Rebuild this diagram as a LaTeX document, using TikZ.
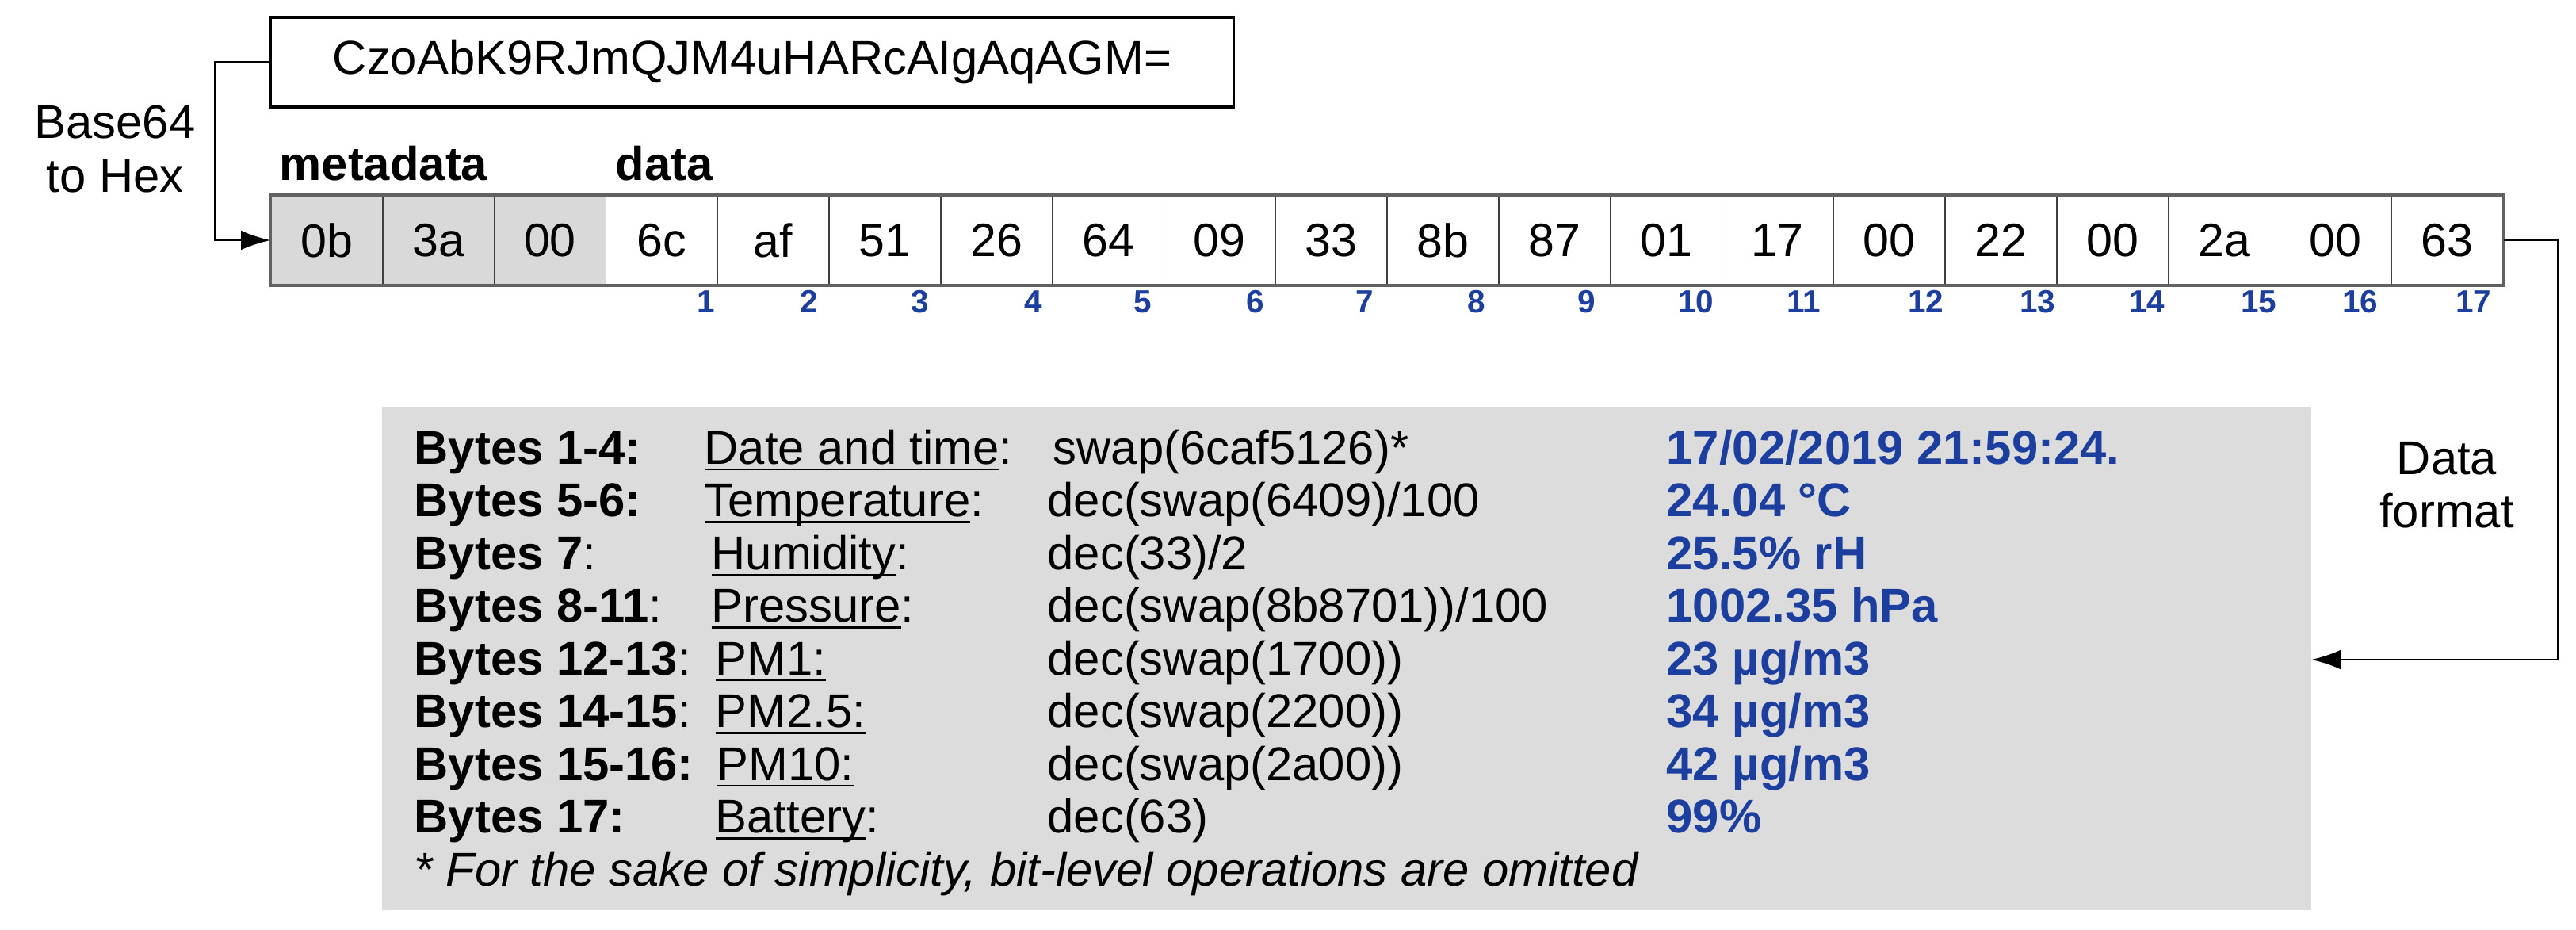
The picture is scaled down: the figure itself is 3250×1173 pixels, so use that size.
\documentclass[tikz,border=0pt]{standalone}
\usepackage{fontspec}
\setmainfont{Liberation Sans}
\usetikzlibrary{arrows.meta}
\definecolor{cellgray}{RGB}{217,217,217}
\definecolor{boxgray}{RGB}{220,220,220}
\definecolor{valblue}{RGB}{28,62,158}
\newcommand{\myul}[1]{\setbox0\hbox{#1}\rlap{\rule[-2.4pt]{\wd0}{0.75pt}}\box0}
\begin{document}
\begin{tikzpicture}[x=0.01cm,y=-0.01cm,
  txt/.style={font=\fontsize{17}{19}\selectfont, inner sep=0pt},
  cell/.style={draw=black!75, line width=0.45pt, minimum width=1.408cm, minimum height=1.12cm, inner sep=0pt, font=\fontsize{16.8}{19}\selectfont},
  meta/.style={cell, fill=cellgray},
  idx/.style={font=\bfseries\fontsize{11.5}{13}\selectfont, text=valblue, inner sep=0pt, anchor=base east},
  conn/.style={line width=0.7pt, -{Latex[length=10.5pt,width=7pt]}},
  lbl/.style={txt, anchor=base west},
  val/.style={inner sep=0pt, anchor=base west, font=\bfseries\fontsize{17}{19}\selectfont, text=valblue}
]
\useasboundingbox (0,0) rectangle (3250,1173);

% base64 string box
\node[draw, line width=0.9pt, minimum width=12.14cm, minimum height=1.13cm, txt] (b64) at (949,78.5) {CzoAbK9RJmQJM4uHARcAIgAqAGM=};

% byte cells
\foreach \v [count=\i] in {0b,3a,00} {
  \node[meta] (c\i) at ({342+140.8*(\i-0.5)},303) {\v};
}
\foreach \v [count=\j] in {6c,af,51,26,64,09,33,8b,87,01,17,00,22,00,2a,00,63} {
  \pgfmathtruncatemacro{\i}{\j+3}
  \node[cell] (c\i) at ({342+140.8*(\i-0.5)},303) {\v};
}
\draw[line width=1.3pt, draw=black!62] (c1.north west) rectangle (c20.south east);

% byte indices
\foreach \x [count=\k] in {903,1033,1173,1316,1454,1596,1734,1875,2014,2163,2298,2453,2594,2732,2873,3001,3144} {
  \node[idx] (n\k) at (\x,395) {\k};
}

% labels
\node[txt, anchor=base] (lb1) at (145,175) {Base64};
\node[txt, anchor=base] (lb2) at (145,242) {to Hex};
\node[lbl, font=\bfseries\fontsize{17}{19}\selectfont] (lmeta) at (352,228) {metadata};
\node[lbl, font=\bfseries\fontsize{17}{19}\selectfont] (ldata) at (776,228) {data};
\node[txt, anchor=base] (df1) at (3087,598) {Data};
\node[txt, anchor=base] (df2) at (3087,665) {format};

% info box
\fill[boxgray] (482,513) rectangle (2916,1148);
\coordinate (infoR) at (2916,832);

\node[lbl] (r1a) at (522,585) {\textbf{Bytes 1-4:}};
\node[lbl] (r1b) at (888,585) {\myul{Date and time}:};
\node[lbl] (r1c) at (1328,585) {swap(6caf5126)*};
\node[val] (r1d) at (2102,585) {17/02/2019 21:59:24.};

\node[lbl] (r2a) at (522,651.5) {\textbf{Bytes 5-6:}};
\node[lbl] (r2b) at (888,651.5) {\myul{Temperature}:};
\node[lbl] (r2c) at (1321,651.5) {dec(swap(6409)/100};
\node[val] (r2d) at (2102,651.5) {24.04 °C};

\node[lbl] (r3a) at (522,718) {\textbf{Bytes 7}:};
\node[lbl] (r3b) at (897,718) {\myul{Humidity}:};
\node[lbl] (r3c) at (1321,718) {dec(33)/2};
\node[val] (r3d) at (2102,718) {25.5\% rH};

\node[lbl] (r4a) at (522,784.5) {\textbf{Bytes 8-11}:};
\node[lbl] (r4b) at (897,784.5) {\myul{Pressure}:};
\node[lbl] (r4c) at (1321,784.5) {dec(swap(8b8701))/100};
\node[val] (r4d) at (2102,784.5) {1002.35 hPa};

\node[lbl] (r5a) at (522,851) {\textbf{Bytes 12-13}:};
\node[lbl] (r5b) at (902,851) {\myul{PM1:}};
\node[lbl] (r5c) at (1321,851) {dec(swap(1700))};
\node[val] (r5d) at (2102,851) {23 µg/m3};

\node[lbl] (r6a) at (522,917.5) {\textbf{Bytes 14-15}:};
\node[lbl] (r6b) at (902,917.5) {\myul{PM2.5:}};
\node[lbl] (r6c) at (1321,917.5) {dec(swap(2200))};
\node[val] (r6d) at (2102,917.5) {34 µg/m3};

\node[lbl] (r7a) at (522,984) {\textbf{Bytes 15-16:}};
\node[lbl] (r7b) at (904,984) {\myul{PM10:}};
\node[lbl] (r7c) at (1321,984) {dec(swap(2a00))};
\node[val] (r7d) at (2102,984) {42 µg/m3};

\node[lbl] (r8a) at (522,1050.5) {\textbf{Bytes 17:}};
\node[lbl] (r8b) at (902,1050.5) {\myul{Battery}:};
\node[lbl] (r8c) at (1321,1050.5) {dec(63)};
\node[val] (r8d) at (2102,1050.5) {99\%};

\node[lbl, font=\itshape\fontsize{17}{19}\selectfont] (foot) at (522,1117) {* For the sake of simplicity, bit-level operations are omitted};

% connectors
\draw[conn] (b64.west) -- ++(-69,0) |- (c1.west);
\draw[conn] (c20.east) -- ++(68,0) |- (infoR);
\end{tikzpicture}
\end{document}
